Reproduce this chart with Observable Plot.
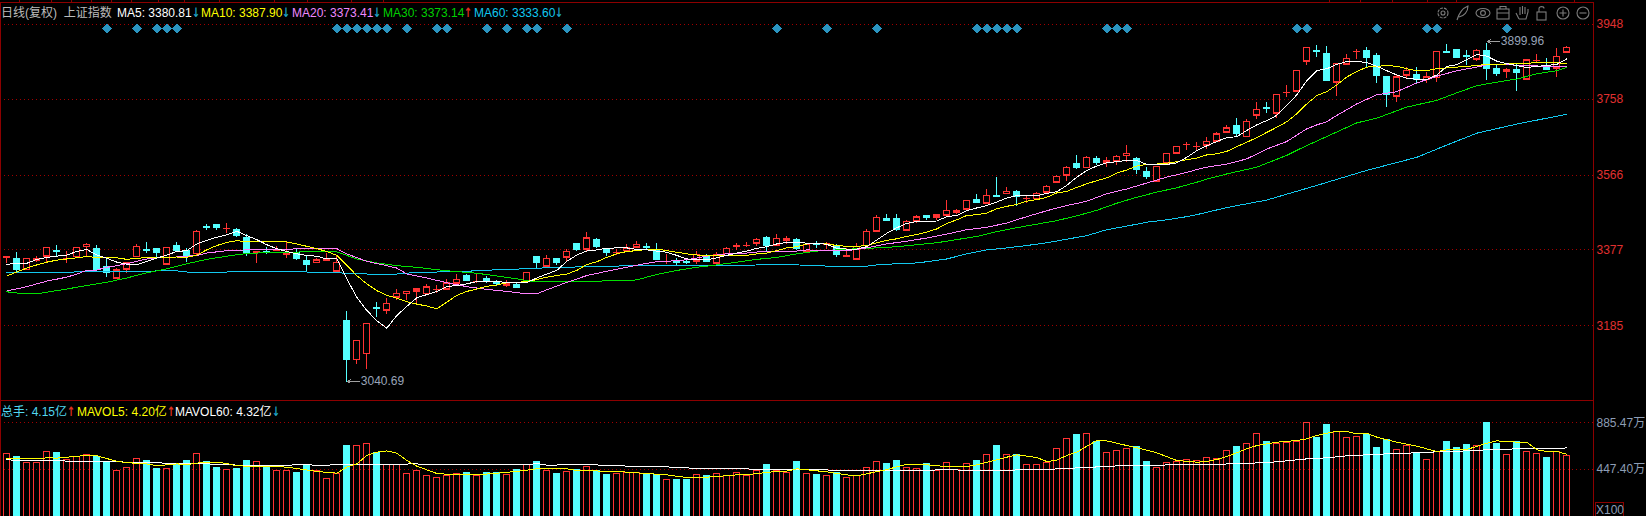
<!DOCTYPE html>
<html>
<head>
<meta charset="utf-8">
<script src="https://cdn.jsdelivr.net/npm/d3@7"></script>
<script src="https://cdn.jsdelivr.net/npm/@observablehq/plot@0.6"></script>
<style>
html,body{margin:0;padding:0;background:#000;overflow:hidden}
#chart{position:relative;width:1646px;height:516px;background:#000;overflow:hidden;font-family:"Liberation Sans","Noto Sans CJK SC",sans-serif}
#chart svg{shape-rendering:crispEdges}
.lg{position:absolute;font-size:12px;line-height:14px;white-space:pre;z-index:5}
.dn,.up{font-family:"DejaVu Sans",sans-serif;font-size:13px;font-weight:bold;display:inline-block;width:8px;transform:scaleX(.75);transform-origin:left center}
.dn{color:#1fa3c4}.up{color:#e03020}
</style>
</head>
<body>
<div id="chart"></div>
<script>
const open = [3358,3353,3327,3351,3361,3374,3354,3359,3385,3378,3333,3305,3328,3359,3377,3378,3341,3387,3375,3367,
3434,3439,3431,3427,3406,3370,3371,3376,3365,3370,3348,3345,3349,3323,3196,3099,3114,3230,3224,3257,
3266,3272,3266,3278,3278,3293,3312,3298,3304,3294,3287,3287,3299,3358,3336,3355,3358,3391,3379,3402,
3378,3370,3375,3384,3384,3375,3348,3347,3346,3348,3360,3343,3367,3385,3388,3394,3406,3389,3401,3401,
3374,3391,3391,3385,3361,3353,3388,3424,3456,3454,3427,3449,3462,3460,3465,3472,3480,3502,3495,3513,
3519,3524,3506,3506,3523,3548,3566,3593,3584,3608,3599,3601,3615,3607,3573,3551,3596,3621,3643,3639,
3641,3652,3674,3690,3663,3717,3736,3723,3774,3778,3854,3879,3873,3801,3846,3878,3881,3868,3813,3765,
3818,3820,3807,3812,3877,3882,3868,3859,3881,3835,3828,3832,3808,3857,3841,3836,3876];
const close = [3359,3327,3354,3354,3382,3373,3354,3382,3390,3327,3321,3325,3343,3385,3376,3371,3382,3376,3363,3423,
3433,3434,3431,3414,3368,3371,3370,3376,3368,3356,3340,3351,3353,3345,3101,3147,3190,3229,3241,3266,
3271,3278,3283,3278,3293,3301,3299,3298,3297,3293,3292,3283,3319,3346,3354,3346,3372,3378,3407,3385,
3371,3370,3381,3390,3383,3353,3348,3346,3345,3365,3348,3364,3380,3388,3388,3402,3389,3405,3405,3380,
3390,3390,3392,3365,3362,3385,3423,3458,3451,3429,3448,3460,3460,3464,3476,3476,3501,3497,3514,3512,
3524,3511,3506,3519,3536,3562,3584,3586,3610,3599,3602,3612,3620,3579,3563,3587,3620,3638,3643,3639,
3650,3669,3685,3672,3701,3731,3735,3769,3774,3830,3888,3878,3806,3848,3860,3878,3864,3818,3770,3814,
3830,3808,3814,3878,3876,3863,3867,3880,3836,3824,3832,3826,3857,3857,3834,3865,3888];
const high = [3359,3370,3354,3359,3384,3388,3372,3382,3393,3388,3356,3331,3345,3391,3395,3381,3382,3396,3380,3425,
3441,3441,3443,3430,3415,3371,3383,3385,3395,3377,3364,3356,3367,3359,3221,3147,3190,3243,3253,3277,
3271,3278,3289,3286,3301,3314,3315,3318,3310,3299,3299,3295,3319,3360,3363,3355,3378,3391,3420,3405,
3380,3377,3391,3397,3393,3393,3366,3355,3352,3372,3365,3370,3382,3394,3396,3406,3411,3417,3411,3405,
3392,3397,3396,3390,3380,3392,3428,3464,3466,3466,3451,3463,3464,3467,3502,3480,3503,3516,3530,3560,
3535,3527,3514,3523,3539,3566,3588,3616,3613,3613,3610,3616,3641,3610,3585,3588,3620,3639,3648,3648,
3661,3674,3691,3708,3706,3750,3749,3771,3792,3830,3888,3894,3891,3848,3870,3884,3889,3873,3813,3819,
3837,3837,3825,3878,3895,3883,3881,3884,3899.96,3843,3835,3845,3857,3870,3860,3885,3891];
const low = [3342,3319,3325,3346,3346,3359,3343,3356,3359,3325,3308,3304,3317,3357,3369,3352,3339,3370,3346,3359,
3426,3427,3419,3409,3361,3343,3365,3373,3354,3351,3321,3343,3348,3323,3040.69,3087,3075,3207,3214,3249,
3249,3236,3262,3267,3274,3291,3297,3291,3293,3285,3283,3283,3291,3327,3333,3338,3348,3374,3371,3380,
3361,3362,3373,3382,3378,3353,3340,3337,3341,3340,3346,3342,3365,3375,3382,3385,3374,3387,3391,3375,
3374,3381,3377,3358,3361,3352,3380,3423,3449,3424,3425,3444,3451,3451,3463,3466,3478,3494,3493,3510,
3519,3487,3493,3502,3520,3547,3551,3581,3583,3590,3586,3591,3599,3568,3554,3550,3595,3618,3627,3628,
3632,3649,3672,3663,3662,3706,3722,3709,3762,3776,3843,3864,3806,3765,3845,3858,3837,3797,3737,3749,
3808,3797,3798,3800,3873,3862,3843,3854,3806,3816,3810,3778,3808,3848,3833,3814,3873];

const volume = [594,569,510,510,613,607,541,560,585,572,513,438,466,547,532,460,454,500,532,594,
522,466,447,457,532,522,466,438,429,419,488,432,360,407,672,672,688,604,485,485,
407,438,391,363,391,407,419,391,419,416,397,447,485,522,438,410,425,447,472,438,
400,407,416,413,403,403,353,353,353,397,391,407,391,416,391,435,494,429,416,522,
407,400,391,422,363,391,463,522,504,532,463,454,504,438,510,447,500,532,579,672,
579,585,485,485,504,641,729,776,782,710,604,622,641,663,522,463,510,522,538,529,
557,547,622,663,688,782,710,688,697,710,885,751,869,798,744,754,776,654,726,635,
672,604,538,610,710,654,682,672,888,691,579,710,616,594,560,610,576];

const ma5 = [3341,3342,3343,3353,3358,3361,3364,3373,3378,3364,3356,3346,3341,3339,3348,3356,3364,3373,3375,3392,
3401,3409,3415,3424,3413,3403,3390,3380,3373,3367,3363,3361,3354,3354,3304,3257,3224,3198,3179,3211,
3234,3256,3264,3272,3284,3287,3291,3297,3298,3298,3294,3294,3294,3306,3316,3325,3348,3364,3374,3377,
3381,3382,3382,3378,3377,3374,3371,3363,3354,3353,3352,3357,3363,3369,3374,3381,3385,3392,3396,3396,
3394,3394,3391,3381,3379,3379,3385,3402,3419,3433,3444,3449,3449,3450,3461,3464,3476,3483,3489,3498,
3508,3514,3514,3514,3520,3524,3540,3561,3578,3589,3597,3600,3603,3603,3593,3593,3593,3597,3611,3628,
3640,3651,3661,3663,3679,3693,3704,3717,3742,3769,3805,3830,3835,3846,3853,3853,3851,3841,3830,3819,
3811,3808,3808,3819,3841,3845,3858,3871,3867,3854,3848,3843,3838,3841,3843,3846,3860];
const ma10 = [3311,3321,3331,3339,3346,3351,3354,3357,3360,3358,3357,3357,3353,3356,3357,3357,3358,3359,3358,3364,
3377,3388,3396,3400,3398,3397,3397,3397,3397,3392,3386,3380,3373,3363,3338,3312,3291,3274,3262,3255,
3246,3240,3235,3228,3245,3262,3272,3278,3285,3288,3294,3295,3297,3302,3308,3312,3316,3325,3340,3347,
3358,3367,3373,3375,3378,3379,3375,3371,3367,3364,3363,3362,3362,3362,3363,3367,3369,3375,3382,3385,
3392,3392,3392,3388,3386,3386,3388,3395,3401,3405,3411,3416,3422,3430,3444,3453,3464,3466,3470,3481,
3487,3492,3500,3504,3510,3521,3525,3535,3544,3552,3559,3571,3579,3589,3593,3594,3596,3600,3605,3609,
3617,3620,3626,3638,3649,3661,3674,3687,3701,3721,3746,3767,3777,3794,3814,3828,3839,3841,3843,3841,
3835,3830,3830,3835,3837,3839,3841,3843,3846,3846,3847,3849,3849,3850,3850,3850,3848];
const ma20Index = [0,2,4,6,7,8,9,10,11,12,13,14,15,17,19,20,22,24,26,28,29,31,33,34,36,38,39,
40,42,44,46,48,50,52,53,54,56,58,60,62,64,65,66,68,70,72,74,76,78,79,
80,82,84,86,88,90,92,94,96,98,100,102,104,106,108,110,112,114,116,118,119,
120,122,124,126,128,130,131,132,133,135,137,139,141,143,145,147,148,150,152,154,156];
const ma20 = [3273,3284,3298,3308,3316,3325,3326,3333,3337,3342,3348,3354,3357,3359,3363,3369,3375,3377,3378,3378,3380,3381,3380,3367,3348,3337,3331,
3316,3306,3294,3284,3277,3272,3266,3266,3276,3295,3312,3323,3333,3343,3347,3348,3352,3361,3367,3369,3374,3374,3374,
3377,3375,3375,3382,3392,3399,3407,3417,3428,3434,3445,3461,3476,3489,3500,3519,3531,3546,3561,3573,3580,
3586,3594,3607,3632,3651,3683,3693,3701,3717,3746,3769,3777,3799,3816,3830,3839,3845,3845,3843,3841,3841];
const ma30Index = [0,1,2,3,4,6,8,10,12,14,16,18,20,22,24,26,28,30,32,33,35,37,39,
41,43,45,47,49,51,52,53,55,57,59,61,63,65,67,69,71,73,75,77,79,
81,83,85,87,89,91,93,95,97,99,101,103,105,107,109,111,113,115,117,119,
120,122,125,128,130,131,133,135,137,140,143,145,147,149,151,153,155,156];
const ma30 = [3271,3268,3266,3266,3270,3278,3287,3295,3306,3319,3329,3342,3353,3361,3368,3370,3371,3372,3373,3372,3354,3344,3337,
3333,3327,3322,3318,3311,3304,3299,3296,3296,3296,3298,3299,3301,3315,3325,3333,3339,3346,3353,3358,3367,
3374,3377,3380,3382,3385,3390,3395,3403,3411,3423,3433,3442,3451,3463,3477,3495,3510,3523,3534,3548,
3556,3569,3586,3616,3641,3652,3675,3698,3710,3738,3755,3774,3792,3801,3809,3822,3830,3838];
const ma60Index = [0,6,7,17,18,22,23,29,30,32,33,36,37,39,
41,43,46,50,52,53,56,57,60,66,68,69,74,75,79,
82,84,86,87,89,91,92,94,96,98,100,102,104,106,108,110,112,114,116,118,119,
122,126,131,136,141,144,147,151,156];
const ma60 = [3319,3319,3322,3324,3321,3321,3323,3323,3321,3321,3319,3316,3314,3316,
3320,3321,3323,3328,3329,3331,3332,3334,3336,3337,3337,3337,3337,3339,3339,
3336,3336,3336,3339,3342,3344,3347,3354,3367,3377,3382,3388,3395,3404,3413,3428,3437,3447,3453,3461,3466,
3484,3503,3540,3578,3611,3642,3672,3695,3720];

const mavol5Index = [0,2,3,4,5,7,8,9,10,11,12,13,14,15,16,17,18,19,20,21,22,23,24,27,29,31,33,34,35,36,37,38,39,40,41,43,45,47,49,51,53,55,
56,57,61,63,66,68,69,71,73,75,76,78,79,81,82,84,85,86,88,90,92,94,96,97,99,100,101,103,104,105,106,107,108,109,
110,112,113,115,117,119,120,121,122,123,124,125,127,129,130,131,132,133,134,135,136,137,139,141,143,144,146,148,149,151,152,153,154,155,156];
const mavol5 = [554,554,547,557,554,572,579,576,550,525,510,507,500,482,491,500,494,507,516,516,504,482,479,479,457,429,413,469,500,579,610,622,601,532,479,410,397,397,413,429,454,454,
454,438,429,416,397,372,369,382,397,407,422,432,454,435,425,397,388,407,447,497,491,475,475,491,538,563,585,560,522,535,579,610,666,719,
716,672,651,604,532,516,522,541,569,604,641,672,704,719,735,766,788,807,804,782,788,751,704,666,616,632,635,694,716,704,704,632,616,616,591];
const mavol60Index = [0,1,11,12,15,16,19,24,30,31,41,42,52,53,54,56,59,60,63,64,66,67,68,69,74,75,82,83,92,93,95,96,100,101,104,105,106,107,108,109,110,111,115,116,121,122,124,125,127,129,130,132,134,136,138,141,143,146,148,151,155,156];
const mavol60 = [541,529,525,513,513,504,504,485,491,488,500,491,491,504,488,491,491,482,479,472,472,466,463,454,454,444,444,435,435,444,444,435,435,444,444,454,454,463,463,472,472,482,482,491,491,500,500,510,519,538,547,557,576,585,594,604,613,622,632,641,641,651];

const signals = [10,13,15,16,17,33,34,35,36,37,38,40,43,44,48,50,52,53,56,77,82,87,97,98,99,100,101,110,111,112,129,130,137,142,143,150];
const signalLevel = [3937];
const priceTicks = [3948,3758,3566,3377,3185];
const volumeTicks = [885.47,447.40];
const extremes = [{i:148,p:3899.96,t:"3899.96"},{i:34,p:3040.69,t:"3040.69"}];
const tabTicks = [1.3,4.5,6.5,8.5,10.5,12.5,15.2,17.8,21.3,26.8,30.1,34.5,37.7,132.3,135.4,138.6,142.1,145,156.8];
const headerLabels = [
  {l:1,c:"#bcbcbc",t:"日线(复权)  上证指数"},
  {l:117,c:"#ffffff",t:"MA5: 3380.81",a:"↓"},
  {l:201,c:"#ffff00",t:"MA10: 3387.90",a:"↓"},
  {l:292,c:"#ee88ff",t:"MA20: 3373.41",a:"↓"},
  {l:383,c:"#00d000",t:"MA30: 3373.14",a:"↑"},
  {l:474,c:"#10c8f0",t:"MA60: 3333.60",a:"↓"}
];
const volumeLabels = [
  {l:1,c:"#52d8f0",t:"总手: 4.15亿",a:"↑"},
  {l:77,c:"#ffff00",t:"MAVOL5: 4.20亿",a:"↑"},
  {l:175,c:"#ffffff",t:"MAVOL60: 4.32亿",a:"↓"}
];

const RED="#ff3232", CYAN="#54ffff", FRAME="#8c0000", GRID="#a00000";
const idx = d3.range(open.length);
const up = idx.filter(i=>close[i]>=open[i]);
const down = idx.filter(i=>close[i]<open[i]);
const xDomain = [-0.63,158.67];
const yTop = 4002.4;
const W = 0.33;

function candleMarks(list,color,fill){
  return [
    Plot.ruleX(list,{x:i=>i,y1:i=>low[i],y2:i=>high[i],stroke:color}),
    Plot.rect(list,{x1:i=>i-W,x2:i=>i+W,y1:i=>open[i],y2:i=>close[i],fill,stroke:color}),
    Plot.ruleY(list,{x1:i=>i-W,x2:i=>i+W,y:i=>close[i],stroke:color}),
    Plot.ruleY(list,{x1:i=>i-W,x2:i=>i+W,y:i=>open[i],stroke:color})
  ];
}
function maLine(ix,vals,color){
  return Plot.line(ix,{x:(d)=>d,y:(d,k)=>vals[k],stroke:color,strokeWidth:1});
}

const price = Plot.plot({
  width:1646,height:401,marginLeft:0,marginRight:53,marginTop:2,marginBottom:1,
  x:{type:"linear",domain:xDomain,axis:null},
  y:{type:"linear",domain:[2996.2,yTop],axis:null},
  style:{position:"absolute",left:"0",top:"0",background:"#000",fontFamily:"'Liberation Sans',sans-serif",fontSize:"12px"},
  marks:[
    Plot.ruleY(priceTicks,{stroke:GRID,strokeDasharray:"1,3"}),
    Plot.frame({stroke:FRAME,strokeWidth:1.5}),
    Plot.ruleX(tabTicks,{x:d=>d,y1:()=>yTop,y2:()=>yTop-5,dy:-2,stroke:FRAME}),
    ...candleMarks(up,RED,"#000"),
    ...candleMarks(down,CYAN,CYAN),
    maLine(ma60Index,ma60,"#12c8ee"),
    maLine(ma30Index,ma30,"#00e000"),
    maLine(ma20Index,ma20,"#ff80ff"),
    maLine(idx,ma10,"#ffff00"),
    maLine(idx,ma5,"#ffffff"),
    Plot.dot(signals,{x:d=>d,y:()=>signalLevel[0],symbol:"diamond2",r:4.4,fill:"#2a94c0"}),
    Plot.arrow(extremes,{x1:d=>d.i+1.3,x2:d=>d.i+0.05,y1:d=>d.p,y2:d=>d.p,stroke:"#a0a0a0",strokeWidth:1,headLength:5,bend:0,dy:-1.5}),
    Plot.text(extremes,{x:d=>d.i,y:d=>d.p,text:d=>d.t,dx:14,dy:-1.5,textAnchor:"start",fill:"#98a4b8",fontSize:12}),
    Plot.axisY(priceTicks,{anchor:"right",tickSize:0,tickPadding:3,tickFormat:"d",fill:"#e03030",stroke:"none",label:null,fontSize:12})
  ]
});

const vol = Plot.plot({
  width:1646,height:115,marginLeft:0,marginRight:53,marginTop:0,marginBottom:0,
  x:{type:"linear",domain:xDomain,axis:null},
  y:{type:"linear",domain:[6.5,1085.3],axis:null},
  style:{position:"absolute",left:"0",top:"401px",background:"#000",fontFamily:"'Liberation Sans','Noto Sans CJK SC',sans-serif",fontSize:"12px"},
  marks:[
    Plot.ruleY(volumeTicks,{stroke:GRID,strokeDasharray:"1,3"}),
    Plot.frame({anchor:"left",stroke:FRAME,strokeWidth:1.5}),
    Plot.frame({anchor:"right",stroke:FRAME,strokeWidth:1.5}),
    Plot.rect(down,{x1:i=>i-W,x2:i=>i+W,y1:()=>0,y2:i=>volume[i],fill:CYAN,clip:true}),
    Plot.rect(up,{x1:i=>i-W,x2:i=>i+W,y1:()=>0,y2:i=>volume[i],fill:"none",stroke:RED,clip:true}),
    maLine(mavol60Index,mavol60,"#ffffff"),
    maLine(mavol5Index,mavol5,"#ffff00"),
    Plot.axisY(volumeTicks,{anchor:"right",tickSize:0,tickPadding:3,tickFormat:d=>d.toFixed(2)+"万",fill:"#8d9db5",stroke:"none",label:null,fontSize:12})
  ]
});

const root = document.getElementById("chart");
root.append(price,vol);

function addLabels(list,top){
  for(const d of list){
    const s=document.createElement("div");
    s.className="lg";s.style.left=d.l+"px";s.style.top=top+"px";s.style.color=d.c;
    s.textContent=d.t;
    if(d.a){const a=document.createElement("span");a.className=d.a==="↑"?"up":"dn";a.textContent=d.a;s.append(a);}
    root.append(s);
  }
}
addLabels(headerLabels,6);
addLabels(volumeLabels,405);

// X100 tag bottom right
const tag=document.createElement("div");
tag.textContent="X100";
tag.style.cssText="position:absolute;left:1595px;top:502px;width:27px;height:16px;border:1px solid #8c0000;color:#8d9db5;font-size:12px;line-height:15px;text-align:center;z-index:5";
root.append(tag);

// toolbar
const tb=document.createElementNS("http://www.w3.org/2000/svg","svg");
tb.setAttribute("width","160");tb.setAttribute("height","20");
tb.style.cssText="position:absolute;left:1434px;top:3px;z-index:5;shape-rendering:auto";
tb.innerHTML=`<g fill="none" stroke="#7c7c7c" stroke-width="1.1">
<circle cx="9" cy="10" r="5" stroke-dasharray="3 1"/><circle cx="9" cy="10" r="2"/>
<path d="M23 17 C25 10 29 5 34 3 C34 9 30 13 25 14"/>
<ellipse cx="49" cy="10" rx="7" ry="4.5"/><circle cx="49" cy="10" r="2.4"/>
<rect x="63" y="6" width="12" height="10"/><path d="M66 6V3.5H72V6M63 10H75"/>
<path d="M85 16 L82 10 M85 16H92L94 9V6M86 12V4M88.5 11V3M91 11V4"/>
<rect x="103" y="9" width="9" height="8"/><path d="M105 9V5.5C105 3 110 3 110 5.5"/>
<circle cx="129" cy="10" r="6"/><path d="M125.5 10H132.5M129 6.5V13.5"/>
<circle cx="149" cy="10" r="6"/><path d="M145.5 10H152.5"/>
</g>`;
root.append(tb);
</script>
</body>
</html>
